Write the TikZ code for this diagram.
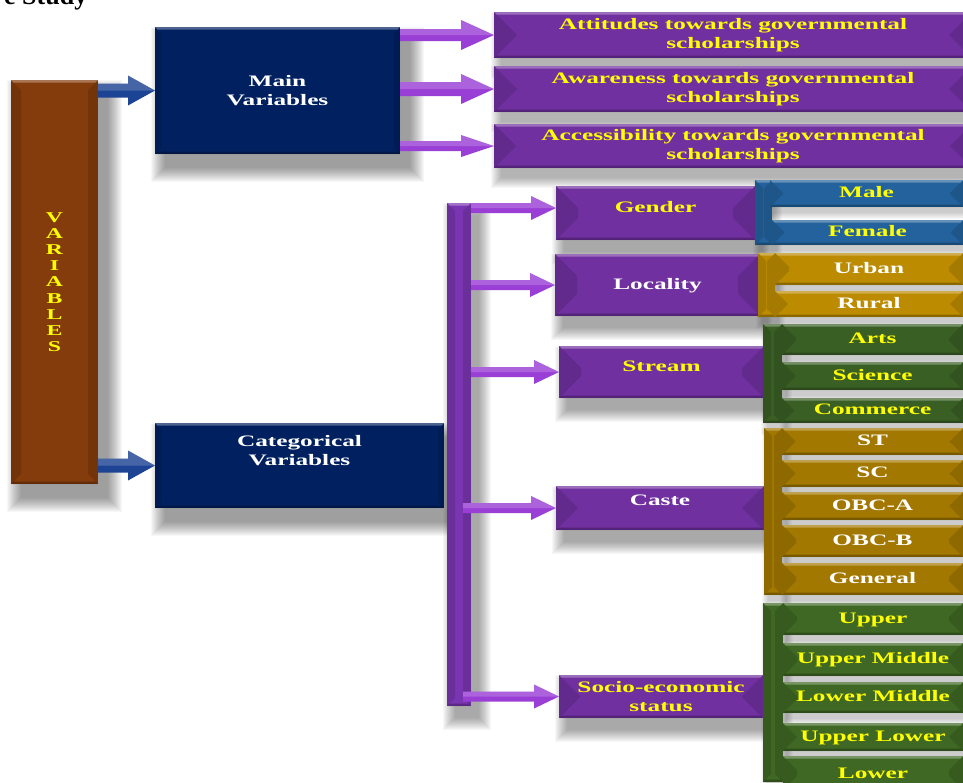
\documentclass[tikz,border=0pt]{standalone}
\usepackage{fontspec}
\setmainfont{Liberation Serif}
\newfontfamily\lbfont[FakeStretch=1.58]{Liberation Serif}
\usetikzlibrary{calc}
\pgfdeclarelayer{bg}
\pgfsetlayers{bg,main}
\definecolor{cbrown}{HTML}{843C0C}
\definecolor{cnavy}{HTML}{002060}
\definecolor{cblarrow}{HTML}{1D4494}
\definecolor{cpurple}{HTML}{7030A0}
\definecolor{cparrow}{HTML}{9A3FD6}
\definecolor{cbar}{HTML}{7A36B2}
\definecolor{cblue}{HTML}{23629C}
\definecolor{cgold}{HTML}{BC8B00}
\definecolor{cgoldd}{HTML}{A27800}
\definecolor{cgreen}{HTML}{3A5F25}
\definecolor{cgreenb}{HTML}{3F6824}
\definecolor{cyel}{HTML}{FFFF00}
\tikzset{
 lbl/.style={font=\lbfont\bfseries\fontsize{16}{19}\selectfont, align=center, inner sep=0pt},
 sub/.style={lbl, text height=11pt, text depth=3pt},
 bx/.style={inner sep=0pt, outer sep=0pt, anchor=north west, draw=none},
}
\newcommand\mkbox[6]{\node[bx,fill=#6,minimum width={(#4-#2)*1pt},minimum height={(#5-#3)*1pt}] (#1) at (#2,#3) {};}
\newcommand\bev[2]{%
\fill[black,opacity=.12] let \p1=(#1.north west),\p2=(#1.south east),\n1={min(#2,(\y1-\y2)/2)} in (\x1,\y1) -- ({\x1+\n1},{\y1-\n1}) -- ({\x1+\n1},{\y2+\n1}) -- (\x1,\y2) -- cycle;
\fill[black,opacity=.12] let \p1=(#1.north west),\p2=(#1.south east),\n1={min(#2,(\y1-\y2)/2)} in (\x2,\y1) -- ({\x2-\n1},{\y1-\n1}) -- ({\x2-\n1},{\y2+\n1}) -- (\x2,\y2) -- cycle;
\fill[white,opacity=.3] let \p1=(#1.north west),\p2=(#1.south east) in (\x1,\y1) -- (\x2,\y1) -- ({\x2-2.5pt},{\y1-2.5pt}) -- ({\x1+2.5pt},{\y1-2.5pt}) -- cycle;
\fill[black,opacity=.25] let \p1=(#1.north west),\p2=(#1.south east) in (\x1,\y2) -- (\x2,\y2) -- ({\x2-2.5pt},{\y2+2.5pt}) -- ({\x1+2.5pt},{\y2+2.5pt}) -- cycle;}
\newcommand\shd[2]{\begin{pgfonlayer}{bg}\foreach \r in {0,...,#2}{\fill[black,opacity=0.032] ([shift={({(0.7*#2-\r)*1pt},{(-#2+\r)*1pt})}]#1.north west) rectangle ([shift={({(0.7*#2+\r)*1pt},{(-#2-\r)*1pt})}]#1.south east);}\end{pgfonlayer}}
\newcommand\bbox[8]{\mkbox{#1}{#2}{#3}{#4}{#5}{#6}\bev{#1}{#7}\shd{#1}{#8}}
\newcommand\barrow[6]{%
\fill[#6] let \p1=(#1),\p2=(#2) in (\x1,{\y2+#3}) -- ({\x2-#5},{\y2+#3}) -- ({\x2-#5},{\y2+#4}) -- (\x2,\y2) -- ({\x2-#5},{\y2-#4}) -- ({\x2-#5},{\y2-#3}) -- (\x1,{\y2-#3}) -- cycle;
\fill[white,opacity=.18] let \p1=(#1),\p2=(#2) in (\x1,\y2) -- (\x1,{\y2+#3}) -- ({\x2-#5},{\y2+#3}) -- ({\x2-#5},{\y2+#4}) -- (\x2,\y2) -- cycle;}
\begin{document}
\begin{tikzpicture}[x=1pt,y=-1pt]
\useasboundingbox (0,0) rectangle (963,782);
\clip (0,0) rectangle (963,782);
\node[anchor=base west, font=\bfseries\fontsize{26}{26}\selectfont, inner sep=0pt] (ttl) at (4,4) {e Study};
\bbox{var}{11}{80}{98}{484}{cbrown}{10}{14}
\bbox{mv}{155}{27}{400}{154}{cnavy}{6}{14}
\bbox{cat}{155}{423}{444}{508}{cnavy}{6}{14}
\bbox{att}{494}{12}{972}{58}{cpurple}{23}{10}
\bbox{awa}{494}{66}{972}{112}{cpurple}{23}{10}
\bbox{acc}{494}{124}{972}{168}{cpurple}{23}{10}
\bbox{bar}{447}{203}{471}{706}{cbar}{8}{12}
\bbox{gen}{556}{186}{755}{240}{cpurple}{22}{12}
\bbox{loc}{555}{254}{760}{316}{cpurple}{22}{12}
\bbox{str}{559}{346}{764}{398}{cpurple}{22}{12}
\bbox{cas}{556}{486}{764}{530}{cpurple}{22}{12}
\bbox{ses}{559}{675}{763}{718}{cpurple}{22}{12}
% sub groups
\bbox{gens}{755}{180}{772}{245}{cblue}{8}{6}
\bbox{male}{770}{180}{963}{207}{cblue}{14}{6}
\bbox{fem}{772}{220}{963}{245}{cblue}{14}{6}
\bbox{locs}{758}{253}{775}{317}{cgold}{8}{6}
\bbox{urb}{775}{253}{963}{285}{cgold}{14}{6}
\bbox{rur}{775}{291}{963}{317}{cgold}{14}{6}
\bbox{strs}{763}{324}{782}{423}{cgreen}{8}{6}
\bbox{arts}{782}{324}{963}{355}{cgreen}{14}{6}
\bbox{sci}{782}{362}{963}{390}{cgreen}{14}{6}
\bbox{com}{782}{398}{963}{423}{cgreen}{14}{6}
\bbox{cass}{764}{428}{782}{595}{cgoldd}{8}{6}
\bbox{st}{782}{428}{963}{455}{cgoldd}{14}{6}
\bbox{sc}{782}{460}{963}{487}{cgoldd}{14}{6}
\bbox{obca}{782}{492}{963}{520}{cgoldd}{14}{6}
\bbox{obcb}{782}{525}{963}{557}{cgoldd}{14}{6}
\bbox{genl}{782}{563}{963}{595}{cgoldd}{14}{6}
\bbox{sess}{763}{603}{783}{782}{cgreenb}{8}{6}
\bbox{up}{783}{603}{963}{635}{cgreenb}{14}{6}
\bbox{um}{783}{643}{963}{676}{cgreenb}{14}{6}
\bbox{lm}{783}{682}{963}{713}{cgreenb}{14}{6}
\bbox{ul}{783}{723}{963}{751}{cgreenb}{14}{6}
\bbox{lo}{783}{756}{963}{790}{cgreenb}{14}{6}
% connectors
\barrow{var.east}{mv.west}{7pt}{15pt}{27pt}{cblarrow}
\barrow{var.east}{cat.west}{7pt}{15pt}{27pt}{cblarrow}
\barrow{mv.east}{att.west}{6pt}{15pt}{33pt}{cparrow}
\barrow{mv.east}{awa.west}{7pt}{15pt}{33pt}{cparrow}
\barrow{mv.east}{acc.west}{5pt}{11pt}{33pt}{cparrow}
\barrow{bar.east}{[yshift=5pt]gen.west}{5pt}{12pt}{25pt}{cparrow}
\barrow{bar.east}{loc.west}{5pt}{12pt}{25pt}{cparrow}
\barrow{bar.east}{str.west}{5pt}{12pt}{25pt}{cparrow}
\barrow{[xshift=-8pt]bar.east}{cas.west}{5pt}{12pt}{25pt}{cparrow}
\barrow{[xshift=-8pt]bar.east}{ses.west}{5pt}{12pt}{25pt}{cparrow}
% texts
\node[lbl,text=cyel,font=\lbfont\bfseries\fontsize{15}{16.2}\selectfont] (vart) at (var.center) {V\\A\\R\\I\\A\\B\\L\\E\\S};
\node[lbl,text=white] (mvt) at (mv.center) {Main\\Variables};
\node[lbl,text=white] (catt) at ([yshift=15pt]cat.center) {Categorical\\Variables};
\node[lbl,text=cyel] (attt) at (att.center) {Attitudes towards governmental\\scholarships};
\node[lbl,text=cyel] (awat) at (awa.center) {Awareness towards governmental\\scholarships};
\node[lbl,text=cyel] (acct) at (acc.center) {Accessibility towards governmental\\scholarships};
\node[sub,text=cyel] (gent) at ([yshift=5pt]gen.center) {Gender};
\node[sub,text=white] (loct) at (loc.center) {Locality};
\node[sub,text=cyel] (strt) at ([yshift=5pt]str.center) {Stream};
\node[sub,text=white] (cast) at ([yshift=7pt]cas.center) {Caste};
\node[lbl,text=cyel] (sest) at (ses.center) {Socio-economic\\status};
\node[sub,text=cyel] (malet) at (male.center) {Male};
\node[sub,text=cyel] (femt) at (fem.center) {Female};
\node[sub,text=white] (urbt) at (urb.center) {Urban};
\node[sub,text=white] (rurt) at (rur.center) {Rural};
\node[sub,text=cyel] (artst) at (arts.center) {Arts};
\node[sub,text=cyel] (scit) at (sci.center) {Science};
\node[sub,text=cyel] (comt) at (com.center) {Commerce};
\node[sub,text=white] (stt) at (st.center) {ST};
\node[sub,text=white] (sct) at (sc.center) {SC};
\node[sub,text=white] (obcat) at (obca.center) {OBC-A};
\node[sub,text=white] (obcbt) at (obcb.center) {OBC-B};
\node[sub,text=white] (genlt) at (genl.center) {General};
\node[sub,text=cyel] (upt) at (up.center) {Upper};
\node[sub,text=cyel] (umt) at (um.center) {Upper Middle};
\node[sub,text=cyel] (lmt) at (lm.center) {Lower Middle};
\node[sub,text=cyel] (ult) at (ul.center) {Upper Lower};
\node[sub,text=cyel] (lot) at ([yshift=-1pt]lo.center) {Lower};
\end{tikzpicture}
\end{document}
